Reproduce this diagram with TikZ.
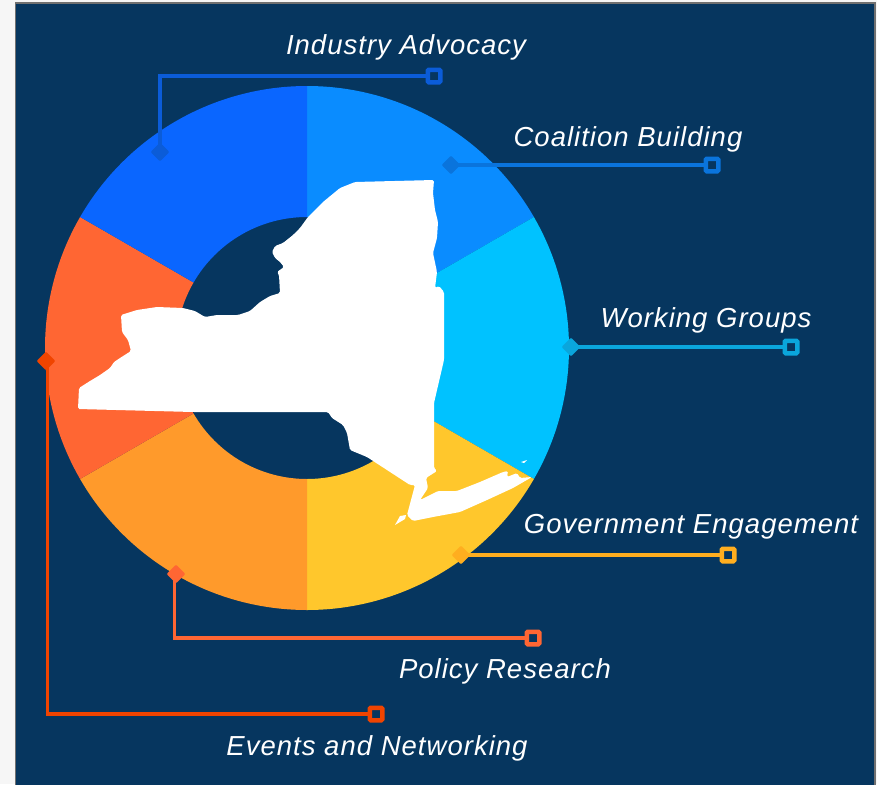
\documentclass[tikz,border=0pt]{standalone}
\usepackage{fontspec}
\setmainfont{Liberation Sans}[LetterSpace=3.7]
\usetikzlibrary{shapes.geometric, positioning}

\definecolor{panelblue}{HTML}{06365F}
\definecolor{pagegray}{HTML}{F6F6F6}
\definecolor{edgegray}{HTML}{707070}
\definecolor{segindustry}{HTML}{0A66FF}
\definecolor{segcoalition}{HTML}{0A8CFF}
\definecolor{segworking}{HTML}{00C2FF}
\definecolor{seggovernment}{HTML}{FFC72C}
\definecolor{segpolicy}{HTML}{FF9A2B}
\definecolor{segevents}{HTML}{FF6633}
\definecolor{lineindustry}{HTML}{0B5CD8}
\definecolor{linecoalition}{HTML}{0A74DC}
\definecolor{lineworking}{HTML}{0AA6DC}
\definecolor{linegovernment}{HTML}{FFAE1F}
\definecolor{linepolicy}{HTML}{FF6633}
\definecolor{lineevents}{HTML}{F04400}

\begin{document}
\begin{tikzpicture}[
    x=1pt, y=-1pt,
    on grid,
    dot/.style={
      diamond,
      rounded corners=1pt,
      minimum size=19pt,
      inner sep=0pt,
      fill=#1
    },
    endbox/.style={
      rectangle,
      rounded corners=1pt,
      minimum size=12.5pt,
      inner sep=0pt,
      line width=4.5pt,
      draw=#1,
      fill=panelblue
    },
    link/.style={
      line width=3.4pt,
      draw=#1
    },
    caption/.style={
      text=white,
      font=\fontsize{27.5}{30}\selectfont\itshape
    }
  ]

  % Background
  \useasboundingbox (0,0) rectangle (877,784);
  \fill[pagegray] (0,0) rectangle (877,784);
  \draw[edgegray, line width=1.5pt, fill=panelblue] (15.5,3) rectangle (875,790);

  % Ring
  \foreach \a/\b/\c in {-90/-30/segcoalition, -30/30/segworking, 30/90/seggovernment, 90/150/segpolicy, 150/210/segevents, 210/270/segindustry} {
    \fill[\c, shift={(307,348)}] (\a:262) arc[start angle=\a, end angle=\b, radius=262]
      -- (\b:131) arc[start angle=\b, end angle=\a, radius=131] -- cycle;
  }

  % State outline
  \fill[white, rounded corners=1.5pt] (78,409) -- (79,388) -- (90,381) -- (100,375) -- (110,368) -- (114,362) -- (120,358) -- (131,351)
    -- (128,340) -- (122,332) -- (121,315) -- (137,310) -- (157,307) -- (183,308) -- (195,311)
    -- (205,317) -- (217,315) -- (238,315) -- (250,311) -- (260,302) -- (270,296) -- (280,293)
    -- (279,275) -- (277,272) -- (284,267) -- (280,262) -- (275,258) -- (272,252) -- (275,246)
    -- (283,243) -- (293,235) -- (300,228) -- (308,217) -- (323,202) -- (340,188) -- (355,182)
    -- (434,180) -- (433,193) -- (435,210) -- (438,222) -- (437,238) -- (433,253) -- (437,272)
    -- (435,288) -- (439,286) -- (444,292) -- (444,350) -- (444,360) -- (434,403) -- (434,468)
    -- (437,471) -- (426,478) -- (428,488) -- (420,500) -- (438,491) -- (457,491) -- (480,482)
    -- (503,472) -- (508,471) -- (507,477) -- (517,473) -- (520,478) -- (532,477) -- (513,488)
    -- (487,500) -- (460,512) -- (433,517) -- (413,521) -- (407,515) -- (415,485) -- (410,485)
    -- (367,457) -- (350,450) -- (347,433) -- (343,425) -- (332,418) -- (328,412) -- (193,412) -- cycle;
  \fill[white] (395,525) -- (400,516) -- (406,515) -- (405,519) -- cycle;
  \fill[white] (521,462) -- (527,460) -- (524,463) -- cycle;

  % Markers on the ring
  \node[dot=lineindustry] (industrydot) at (160,152) {};
  \node[dot=linecoalition] (coalitiondot) at (451,165) {};
  \node[dot=lineworking] (workingdot) at (571,347) {};
  \node[dot=linegovernment] (governmentdot) at (461,555) {};
  \node[dot=linepolicy] (policydot) at (176,574) {};
  \node[dot=lineevents] (eventsdot) at (46,361) {};

  % End boxes
  \node[endbox=lineindustry] (industrybox) at (434,76) {};
  \node[endbox=linecoalition] (coalitionbox) at (712,165) {};
  \node[endbox=lineworking] (workingbox) at (791,347) {};
  \node[endbox=linegovernment] (governmentbox) at (728,555) {};
  \node[endbox=linepolicy] (policybox) at (533,638) {};
  \node[endbox=lineevents] (eventsbox) at (376,714) {};

  % Connectors
  \draw[link=lineindustry] (industrydot.center) |- (industrybox);
  \draw[link=linecoalition] (coalitiondot.center) -- (coalitionbox);
  \draw[link=lineworking] (workingdot.center) -- (workingbox);
  \draw[link=linegovernment] (governmentdot.center) -- (governmentbox);
  \draw[link=linepolicy] ([xshift=-1.5pt]policydot.center) |- (policybox);
  \draw[link=lineevents] ([xshift=1.5pt]eventsdot.center) |- (eventsbox);

  % Labels
  \node[caption, above left=29pt and 28pt of industrybox] (industrylabel) {Industry Advocacy};
  \node[caption, above left=26pt and 84pt of coalitionbox] (coalitionlabel) {Coalition Building};
  \node[caption, above left=27pt and 85pt of workingbox] (workinglabel) {Working Groups};
  \node[caption, above left=28pt and 37pt of governmentbox] (governmentlabel) {Government Engagement};
  \node[caption, below left=33pt and 28pt of policybox] (policylabel) {Policy Research};
  \node[caption, below right=34pt and 1pt of eventsbox] (eventslabel) {Events and Networking};

\end{tikzpicture}
\end{document}
